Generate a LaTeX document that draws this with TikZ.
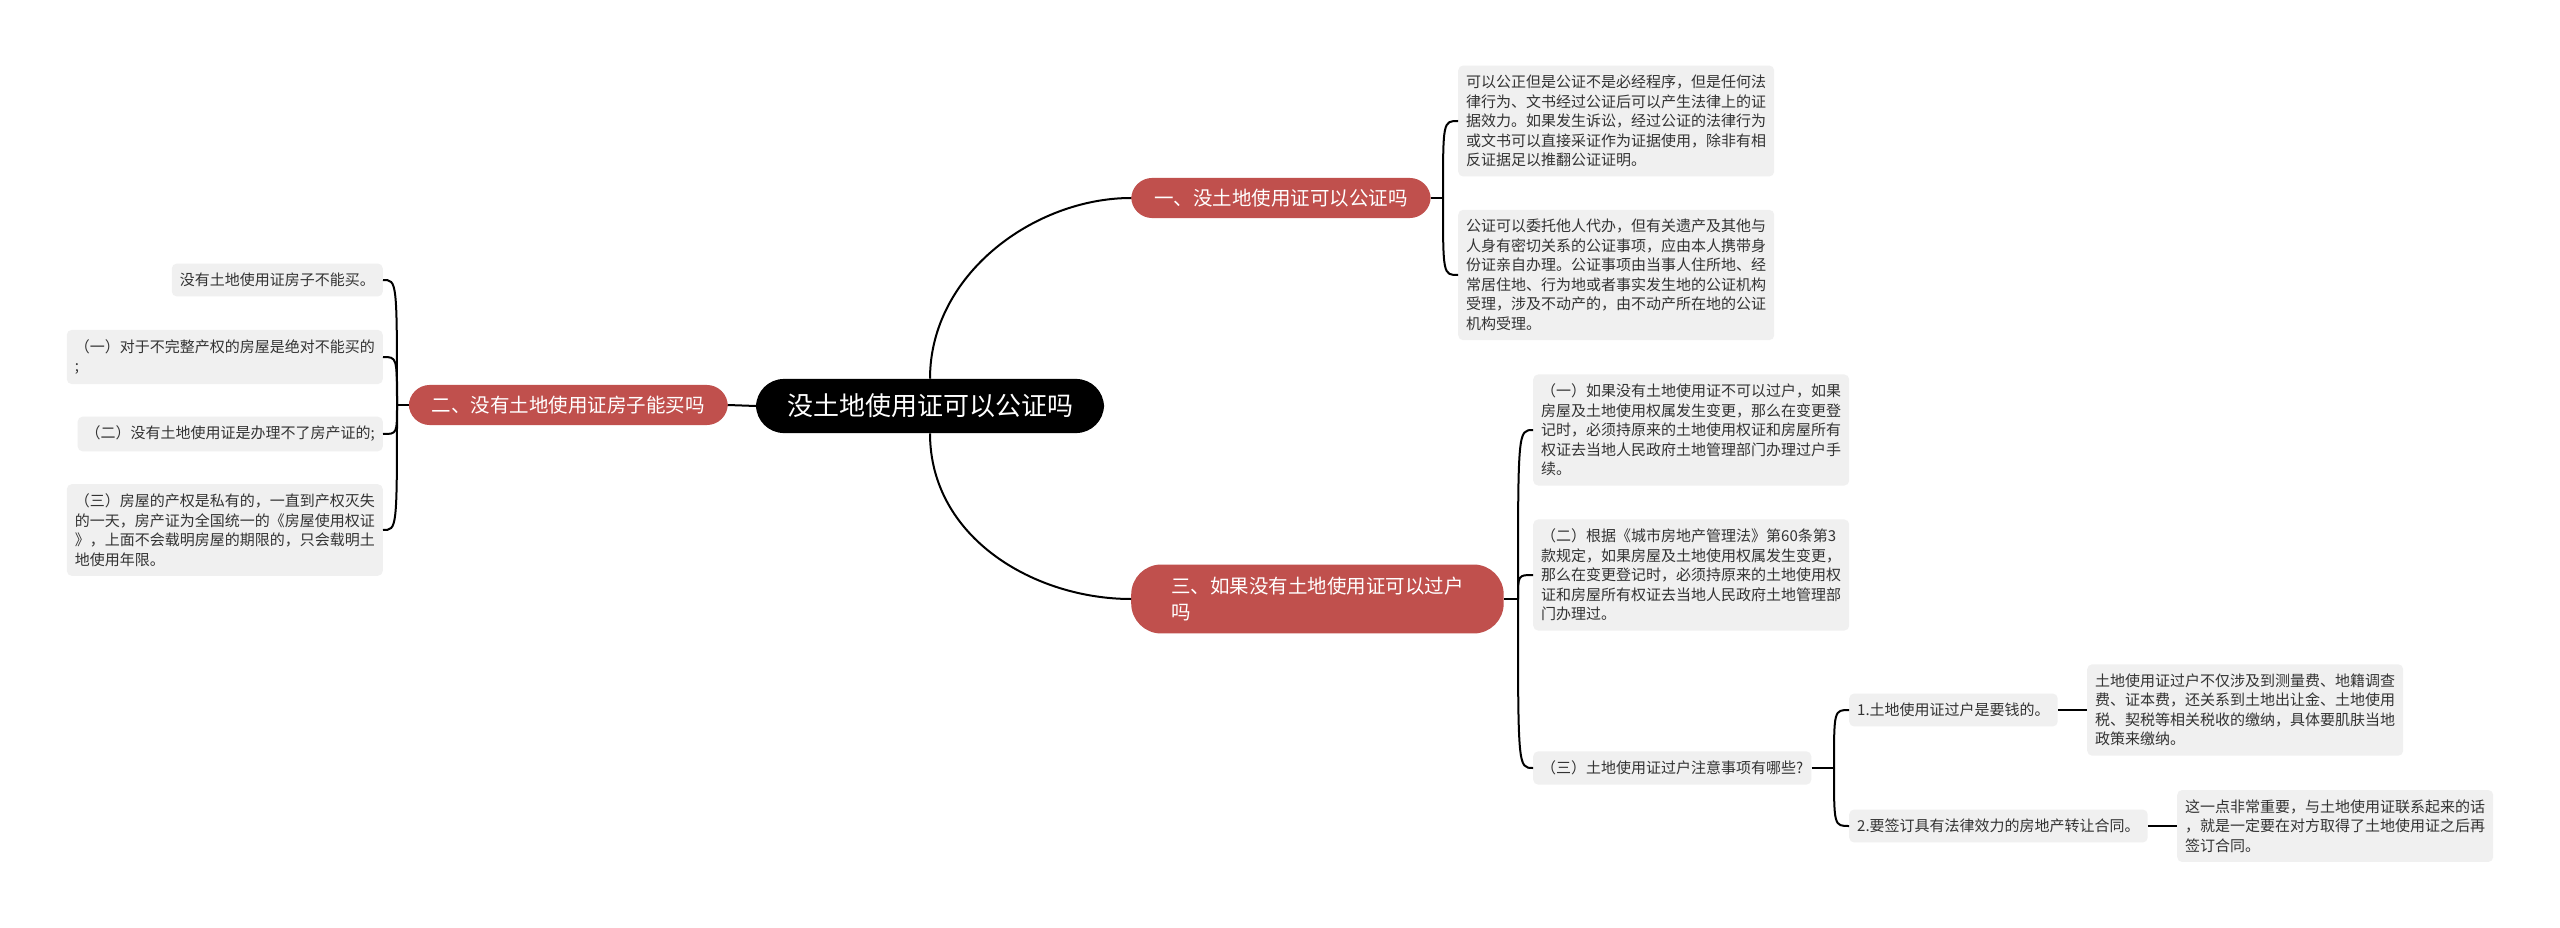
\documentclass[tikz,border=0pt]{standalone}
\usepackage{fontspec}
\setmainfont{Noto Sans CJK SC}
\newfontfamily\cjk{Noto Sans CJK SC}
\definecolor{redn}{RGB}{192,80,77}
\definecolor{leaffill}{RGB}{240,240,240}
\definecolor{leaftext}{RGB}{51,51,51}
\tikzset{
  rootbox/.style={fill=black, text=white, rounded corners=28pt, inner xsep=31pt, inner ysep=15pt,
    font=\cjk\fontsize{26}{30}\selectfont},
  mainbox/.style={fill=redn, text=white, rounded corners=21pt, inner xsep=23pt, inner ysep=11pt,
    font=\cjk\fontsize{19.5}{26}\selectfont, align=left},
  leafbox/.style={fill=leaffill, text=leaftext, rounded corners=5pt, inner xsep=8pt, inner ysep=9.5pt,
    font=\cjk\fontsize{15}{19.5}\selectfont, align=left},
  conn/.style={draw=black, line width=2pt},
}
\begin{document}
\begin{tikzpicture}[x=1pt,y=-1pt]
\useasboundingbox (0,0) rectangle (2560,928);
\fill[white] (0,0) rectangle (2560,928);

% root and main topics
\node[rootbox] (c) at (930,406) {没土地使用证可以公证吗};
\node[mainbox, anchor=west] (n1) at (1131,198) {一、没土地使用证可以公证吗};
\node[mainbox, anchor=east] (n2) at (728,405) {二、没有土地使用证房子能买吗};
\node[mainbox, anchor=west, inner xsep=40pt, inner ysep=12.5pt, rounded corners=30pt] (n3) at (1131,599) {三、如果没有土地使用证可以过户\\吗};

% topic 1 leaves
\node[leafbox, anchor=west] (r1) at (1458,121) {可以公正但是公证不是必经程序，但是任何法\\律行为、文书经过公证后可以产生法律上的证\\据效力。如果发生诉讼，经过公证的法律行为\\或文书可以直接采证作为证据使用，除非有相\\反证据足以推翻公证证明。};
\node[leafbox, anchor=west] (r2) at (1458,275) {公证可以委托他人代办，但有关遗产及其他与\\人身有密切关系的公证事项，应由本人携带身\\份证亲自办理。公证事项由当事人住所地、经\\常居住地、行为地或者事实发生地的公证机构\\受理，涉及不动产的，由不动产所在地的公证\\机构受理。};

% topic 2 leaves
\node[leafbox, anchor=east] (l1) at (383,280) {没有土地使用证房子不能买。};
\node[leafbox, anchor=east] (l2) at (383,357) {（一）对于不完整产权的房屋是绝对不能买的\\;};
\node[leafbox, anchor=east] (l3) at (383,434) {（二）没有土地使用证是办理不了房产证的;};
\node[leafbox, anchor=east] (l4) at (383,530) {（三）房屋的产权是私有的，一直到产权灭失\\的一天，房产证为全国统一的《房屋使用权证\\》，上面不会载明房屋的期限的，只会载明土\\地使用年限。};

% topic 3 leaves
\node[leafbox, anchor=west] (s1) at (1533,430) {（一）如果没有土地使用证不可以过户，如果\\房屋及土地使用权属发生变更，那么在变更登\\记时，必须持原来的土地使用权证和房屋所有\\权证去当地人民政府土地管理部门办理过户手\\续。};
\node[leafbox, anchor=west] (s2) at (1533,575) {（二）根据《城市房地产管理法》第60条第3\\款规定，如果房屋及土地使用权属发生变更，\\那么在变更登记时，必须持原来的土地使用权\\证和房屋所有权证去当地人民政府土地管理部\\门办理过。};
\node[leafbox, anchor=west] (s3) at (1533,768) {（三）土地使用证过户注意事项有哪些?};
\node[leafbox, anchor=west] (t1) at (1849,710) {1.土地使用证过户是要钱的。};
\node[leafbox, anchor=west] (t2) at (1849,826) {2.要签订具有法律效力的房地产转让合同。};
\node[leafbox, anchor=west] (u1) at (2087,710) {土地使用证过户不仅涉及到测量费、地籍调查\\费、证本费，还关系到土地出让金、土地使用\\税、契税等相关税收的缴纳，具体要肌肤当地\\政策来缴纳。};
\node[leafbox, anchor=west] (u2) at (2177,826) {这一点非常重要，与土地使用证联系起来的话\\，就是一定要在对方取得了土地使用证之后再\\签订合同。};

% junctions
\coordinate (jR) at (1443,198);
\coordinate (jL) at (397,405);
\coordinate (jS) at (1518,599);
\coordinate (jT) at (1834,768);

% root connectors
\draw[conn] (c.north) .. controls +(0,-105) and +(-96,0) .. (n1.west);
\draw[conn] (c.south) .. controls +(0,105) and +(-96,0) .. (n3.west);
\draw[conn] (c.west) -- (n2.east);

% topic 1 bracket
\draw[conn] (n1.east) -- (jR);
\draw[conn] (jR) .. controls (jR |- r1.west) .. (r1.west);
\draw[conn] (jR) .. controls (jR |- r2.west) .. (r2.west);

% topic 2 bracket
\draw[conn] (n2.west) -- (jL);
\draw[conn] (jL) .. controls (jL |- l1.east) .. (l1.east);
\draw[conn] (jL) .. controls (jL |- l2.east) .. (l2.east);
\draw[conn] (jL) .. controls (jL |- l3.east) .. (l3.east);
\draw[conn] (jL) .. controls (jL |- l4.east) .. (l4.east);

% topic 3 bracket
\draw[conn] (n3.east) -- (jS);
\draw[conn] (jS) .. controls (jS |- s1.west) .. (s1.west);
\draw[conn] (jS) .. controls (jS |- s2.west) .. (s2.west);
\draw[conn] (jS) .. controls (jS |- s3.west) .. (s3.west);

% sub bracket
\draw[conn] (s3.east) -- (jT);
\draw[conn] (jT) .. controls (jT |- t1.west) .. (t1.west);
\draw[conn] (jT) .. controls (jT |- t2.west) .. (t2.west);
\draw[conn] (t1.east) -- (u1.west);
\draw[conn] (t2.east) -- (u2.west);
\end{tikzpicture}
\end{document}
